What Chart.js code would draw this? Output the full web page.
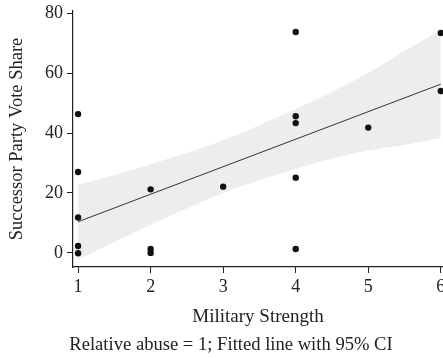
<!DOCTYPE html>
<html>
<head>
<meta charset="utf-8">
<script src="https://cdn.jsdelivr.net/npm/chart.js@4/dist/chart.umd.min.js"></script>
<style>
  html, body { margin: 0; padding: 0; background: #fff; }
  #wrap { width: 443px; height: 358px; position: relative; }
</style>
</head>
<body>
<div id="wrap"><canvas id="myChart"></canvas></div>
<script>
// observed cases
const pointX = [1, 1, 1, 1, 1, 2, 2, 2, 3, 4, 4, 4, 4, 4, 5, 6, 6];
const pointY = [46.3, 27, 11.8, 2.3, -0.1, 21.2, 1.3, 0, 22.1, 73.7, 45.6, 43.3, 25.1, 1.3, 41.8, 73.4, 54];

// fitted line
const fitX = [1, 6];
const fitY = [10.4, 56.3];

// 95% CI band
const bandX = [1, 1.5, 2, 2.5, 3, 3.5, 4, 4.5, 5, 5.5, 6];
const bandUpper = [22.8, 26.0, 29.6, 33.4, 37.6, 42.6, 48.0, 53.8, 60.0, 67.4, 74.3];
const bandLower = [-2.2, 3.6, 9.4, 14.8, 20.0, 24.2, 28.0, 31.4, 34.2, 36.0, 38.3];

const xTicks = [1, 2, 3, 4, 5, 6];
const yTicks = [0, 20, 40, 60, 80];

const xTitle = 'Military Strength';
const yTitle = 'Successor Party Vote Share';
const caption = 'Relative abuse = 1; Fitted line with 95% CI';

const serif = '"Liberation Serif", "DejaVu Serif", serif';
const ink = '#222';

const captionPlugin = {
  id: 'caption',
  afterDraw(chart) {
    const ctx = chart.ctx;
    ctx.save();
    ctx.font = '18.6px ' + serif;
    ctx.fillStyle = ink;
    ctx.textAlign = 'center';
    ctx.textBaseline = 'middle';
    ctx.fillText(caption, 231, 345);
    ctx.restore();
  }
};

// no extra room for end labels, the axes sit where the picture has them
const noPad = (scale) => {
  scale.paddingLeft = 0;
  scale.paddingRight = 0;
  scale.paddingTop = 0;
  scale.paddingBottom = 0;
};

const ctx = document.getElementById('myChart').getContext('2d');
new Chart(ctx, {
  data: {
    datasets: [
      {
        type: 'line',
        label: 'upper',
        data: bandX.map((x, i) => ({ x: x, y: bandUpper[i] })),
        borderWidth: 0,
        pointRadius: 0,
        backgroundColor: 'rgba(0,0,0,0.07)',
        fill: '+1',
        tension: 0.3,
        order: 3
      },
      {
        type: 'line',
        label: 'lower',
        data: bandX.map((x, i) => ({ x: x, y: bandLower[i] })),
        borderWidth: 0,
        pointRadius: 0,
        fill: false,
        tension: 0.3,
        order: 3
      },
      {
        type: 'line',
        label: 'fit',
        data: fitX.map((x, i) => ({ x: x, y: fitY[i] })),
        borderColor: '#333',
        borderWidth: 1,
        pointRadius: 0,
        fill: false,
        order: 2
      },
      {
        type: 'scatter',
        label: 'cases',
        data: pointX.map((x, i) => ({ x: x, y: pointY[i] })),
        backgroundColor: '#111',
        borderWidth: 0,
        pointRadius: 3.2,
        clip: false,
        order: 1
      }
    ]
  },
  options: {
    responsive: true,
    maintainAspectRatio: false,
    animation: false,
    layout: { autoPadding: false, padding: { top: 11, right: 0, left: 0, bottom: 0 } },
    plugins: {
      legend: { display: false },
      tooltip: { enabled: false }
    },
    scales: {
      x: {
        type: 'linear',
        min: 0.93,
        max: 6.03,
        afterBuildTicks: (scale) => { scale.ticks = xTicks.map(v => ({ value: v })); },
        afterFit: (scale) => { scale.height = 91; noPad(scale); },
        grid: { drawOnChartArea: false, drawTicks: true, tickLength: 6, color: ink },
        border: { display: true, color: ink, width: 1.2 },
        ticks: { padding: 3, color: ink, font: { family: serif, size: 18 } },
        title: {
          display: true,
          text: xTitle,
          color: ink,
          font: { family: serif, size: 19 },
          padding: { top: 0, bottom: 30 }
        }
      },
      y: {
        type: 'linear',
        min: -4.7,
        max: 80.7,
        afterBuildTicks: (scale) => { scale.ticks = yTicks.map(v => ({ value: v })); },
        afterFit: (scale) => { scale.width = 73; noPad(scale); },
        grid: { drawOnChartArea: false, drawTicks: true, tickLength: 6, color: ink },
        border: { display: true, color: ink, width: 1.2 },
        ticks: { padding: 4, color: ink, font: { family: serif, size: 18 } },
        title: {
          display: true,
          text: yTitle,
          color: ink,
          font: { family: serif, size: 18.5 },
          padding: { top: 6, bottom: 0 }
        }
      }
    }
  },
  plugins: [captionPlugin]
});
</script>
</body>
</html>
